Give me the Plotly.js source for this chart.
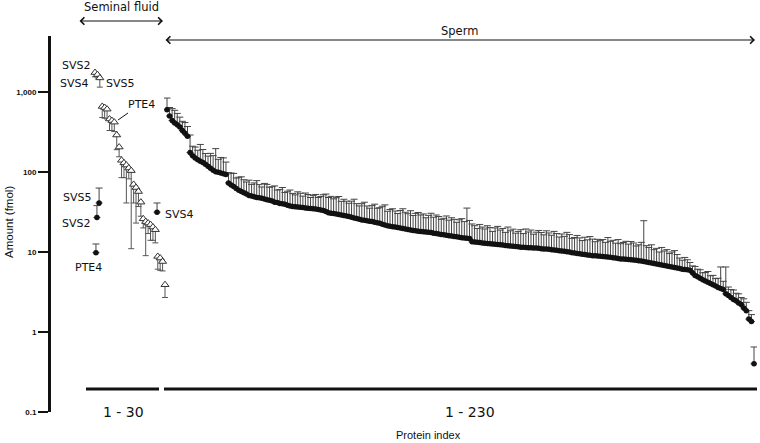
<!DOCTYPE html>
<html>
<head>
<meta charset="utf-8">
<script src="https://cdn.plot.ly/plotly-3.0.1.min.js"></script>
<style>html,body{margin:0;padding:0;background:#fff;}#chart{width:760px;height:443px;}</style>
</head>
<body>
<div id="chart"></div>
<script>
// ---- Seminal fluid proteins (open triangles, lower error bars) ----
const semIndex = [1,2,3,4,5,6,7,8,9,10,11,12,13,14,15,16,17,18,19,20,21,22,23,24,25,26,27,28,29,30];
const semAmount = [1750,1650,1500,660,640,610,460,440,420,290,205,140,130,122,112,104,70,64,57,42,26,24,23,22,20.5,19,8.8,8.4,7.6,3.9];
const semErrMinus = [200,150,350,180,170,150,130,110,100,100,50,55,45,81,30,93,29,41,20,14,6,15,6,8,6.5,6,2.7,2.5,1.8,1.2];

// ---- Seminal proteins detected in sperm (filled dots, labelled) ----
const labNames = ['SVS2','SVS4','SVS5','PTE4'];
const labIndex = [1.8, 26.7, 2.7, 1.4];
const labAmount = [27, 31.5, 41, 9.8];
const labErrPlus = [11, 9.5, 22, 2.8];

// ---- Sperm proteins 1-230 (filled dots, upper error bars) ----
const spermAmount = [
 600,500,440,410,390,365,330,305,280,175,
 160,150,142,136,131,125,118,111,105,101,
 99,97,95,93,73,69,66,62,59,57,
 55,53,51,50,49,48,47.5,47,46,45,
 44.5,43.5,42,41.5,40.5,40,39.5,38.5,37.5,37,
 36.8,36.5,36.2,35.9,35.6,35.3,35,34.7,34.4,34,
 33.5,33,32,31,30.6,30.2,29.8,29.4,29,28.6,
 28.2,27.7,27.2,26.7,26.2,25.7,25.2,24.9,24.6,24.3,
 24,23.6,23.2,22.8,22.3,21.8,21.3,21,20.7,20.5,
 20.3,20,19.7,19.4,19.1,18.8,18.6,18.4,18.2,18,
 17.9,17.8,17.7,17.5,17.2,17,16.8,16.6,16.4,16.2,
 16,15.8,15.6,15.5,15.3,15.1,15,14.9,14.8,13.4,
 13.3,13.2,13.1,13,12.9,12.8,12.7,12.6,12.5,12.4,
 12.3,12.2,12.1,12,11.9,11.8,11.7,11.6,11.5,11.5,
 11.4,11.3,11.3,11.2,11.2,11.1,11.0,10.9,10.9,10.8,
 10.7,10.6,10.5,10.4,10.3,10.2,10.1,10.0,9.8,9.7,
 9.6,9.5,9.4,9.3,9.2,9.1,9.0,8.95,8.9,8.85,
 8.8,8.7,8.65,8.6,8.5,8.4,8.3,8.2,8.15,8.1,
 8.05,8.0,7.95,7.9,7.8,7.7,7.6,7.5,7.4,7.3,
 7.2,7.1,7.0,6.9,6.8,6.7,6.6,6.5,6.4,6.3,
 6.2,6.1,6.05,6.0,5.9,5.5,5.1,4.9,4.7,4.5,
 4.35,4.2,4.05,3.9,3.75,3.6,3.5,3.4,3.0,2.85,
 2.7,2.55,2.45,2.3,2.2,2.0,1.85,1.45,1.35,0.40
];
const spermErrPlus = [
 240,140,180,180,150,120,100,110,90,115,
 50,55,45,85,60,45,40,60,55,95,
 45,55,55,40,25,28,30,22,27,30,
 25,22,28,20,24,30,22,18,26,25,
 20,22,25,18,20,24,16,19,22,17,
 15,20,18,14,19,17,13,16,18,14,
 16,19,21,17,19,16,18,20,14,17,
 15,13,16,19,14,12,15,17,13,11,
 14,16,12,13,15,17,11,13,14,12,
 10,13,15,12,11,14,10,12,13,11,
 12,9,11,13,10,12,11,9,10,12,
 9,11,10,8,10,11,9,20.5,10,9,
 8,6.5,9,7.5,6.5,8.5,7.5,5.5,7.5,8.5,
 6.5,7.5,5.5,8.5,6.5,7.5,5.5,6.5,7.5,5.5,
 8,6.5,7.5,5.5,6.5,7.5,6.5,5.5,7.5,6.5,
 5.5,7.5,6.5,5,6.5,5.5,7.5,6.5,5,5.5,
 6.5,5.5,4.5,6,5,6.5,5.5,4.5,5.5,5,
 5.5,4.5,6.5,5,5.5,4.5,6,4.5,5,5.5,
 4.5,5.5,5,4,4.5,5.5,17,4.5,4,5,
 3.5,4,3,4.5,3.5,4,3,3.5,4,3,
 2.2,1.8,2.5,2,1.5,1.2,1.5,1.2,1.3,1,
 1.2,1.5,1,1.2,0.9,1.1,3,0.9,3.5,0.8,
 0.7,0.8,0.6,0.7,0.5,0.6,0.5,0.4,0.3,0.25
];
const spermIndex = spermAmount.map((_, i) => i + 1);

const yTickVals = [0.1, 1, 10, 100, 1000];
const yTickText = ['0.1', '1', '10', '100', '1,000'];

// ---- layout helpers (pixel -> paper) ----
const W = 760, H = 443, ML = 49, MR = 3, MT = 36, MB = 31;
const PW = W - ML - MR, PH = H - MT - MB;
const px = x => (x - ML) / PW;
const py = y => (H - MB - y) / PH;

const zeros30 = semIndex.map(() => 0);
const zerosS = spermIndex.map(() => 0);
const zerosL = labIndex.map(() => 0);

const traces = [
  {
    x: spermIndex, y: spermAmount, type: 'scatter', mode: 'markers', xaxis: 'x2', yaxis: 'y',
    cliponaxis: false,
    marker: {symbol: 'circle', size: 5.5, color: '#111'},
    error_y: {type: 'data', symmetric: false, array: spermErrPlus, arrayminus: zerosS,
              color: '#444', thickness: 1, width: 3.5}
  },
  {
    x: semIndex, y: semAmount, type: 'scatter', mode: 'markers', xaxis: 'x', yaxis: 'y',
    cliponaxis: false,
    marker: {symbol: 'triangle-up', size: 7, color: '#ffffff', line: {color: '#333', width: 1}},
    error_y: {type: 'data', symmetric: false, array: zeros30, arrayminus: semErrMinus,
              color: '#555', thickness: 1, width: 3}
  },
  {
    x: labIndex, y: labAmount, type: 'scatter', mode: 'markers', xaxis: 'x', yaxis: 'y',
    cliponaxis: false, text: labNames,
    marker: {symbol: 'circle', size: 5.5, color: '#111'},
    error_y: {type: 'data', symmetric: false, array: labErrPlus, arrayminus: zerosL,
              color: '#444', thickness: 1, width: 3.5}
  }
];

const lblFont = {family: 'DejaVu Sans', size: 11, color: '#111'};
function lbl(text, x, y, font) {
  return {text: text, xref: 'paper', yref: 'paper', x: px(x), y: py(y),
          xanchor: 'center', yanchor: 'middle', showarrow: false, font: font || lblFont};
}
function dblArrow(x0, x1, y) {
  return {text: '', xref: 'paper', yref: 'paper', x: px(x1), y: py(y),
          ax: -(x1 - x0), ay: 0, showarrow: true, arrowside: 'end+start',
          arrowhead: 4, arrowsize: 1.2, arrowwidth: 1.2, arrowcolor: '#111', standoff: 0, startstandoff: 0};
}

const annotations = [
  lbl('Seminal fluid', 121, 7, {family: 'DejaVu Sans', size: 11.5, color: '#111'}),
  lbl('Sperm', 459, 31, {family: 'DejaVu Sans', size: 11.5, color: '#111'}),
  dblArrow(78, 163, 21),
  dblArrow(164, 755, 40),
  lbl('SVS2', 76, 65), lbl('SVS4', 74, 84), lbl('SVS5', 120, 83), lbl('PTE4', 141, 105),
  lbl('SVS5', 77, 197), lbl('SVS2', 76, 223), lbl('PTE4', 88, 267), lbl('SVS4', 179, 214),
  lbl('1 - 30', 123, 412, {family: 'DejaVu Sans', size: 14, color: '#111'}),
  lbl('1 - 230', 470, 412, {family: 'DejaVu Sans', size: 14, color: '#111'}),
  lbl('Protein index', 428, 435, {family: 'Liberation Sans', size: 11, color: '#111'}),
  Object.assign(lbl('Amount (fmol)', 9, 222, {family: 'Liberation Sans', size: 11.5, color: '#111'}), {textangle: -90})
];

const shapes = [
  {type: 'line', xref: 'paper', yref: 'paper', x0: px(86), x1: px(159), y0: py(389), y1: py(389), line: {color: '#111', width: 3}},
  {type: 'line', xref: 'paper', yref: 'paper', x0: px(164), x1: px(757), y0: py(389), y1: py(389), line: {color: '#111', width: 3}},
  {type: 'line', xref: 'paper', yref: 'paper', x0: px(118), x1: px(128), y0: py(120), y1: py(113), line: {color: '#111', width: 1}}
];

const layout = {
  width: W, height: H,
  margin: {l: ML, r: MR, t: MT, b: MB, pad: 0},
  paper_bgcolor: '#ffffff', plot_bgcolor: 'rgba(0,0,0,0)',
  showlegend: false,
  xaxis: {domain: [px(90), px(168)], range: [-1.07, 31.24], visible: false, fixedrange: true},
  xaxis2: {domain: [px(164), 1], range: [-0.17, 231.17], visible: false, anchor: 'y', fixedrange: true},
  yaxis: {
    type: 'log', range: [-1, 3.7], anchor: 'free', position: 0,
    tickvals: yTickVals, ticktext: yTickText,
    tickfont: {family: 'Liberation Sans', size: 8, color: '#111', weight: 'bold'},
    ticks: 'outside', ticklen: 10, tickwidth: 1.3, tickcolor: '#111',
    showline: true, linewidth: 2.5, linecolor: '#111',
    showgrid: false, zeroline: false, fixedrange: true
  },
  annotations: annotations,
  shapes: shapes
};

Plotly.newPlot('chart', traces, layout, {displayModeBar: false, staticPlot: true});
</script>
</body>
</html>
